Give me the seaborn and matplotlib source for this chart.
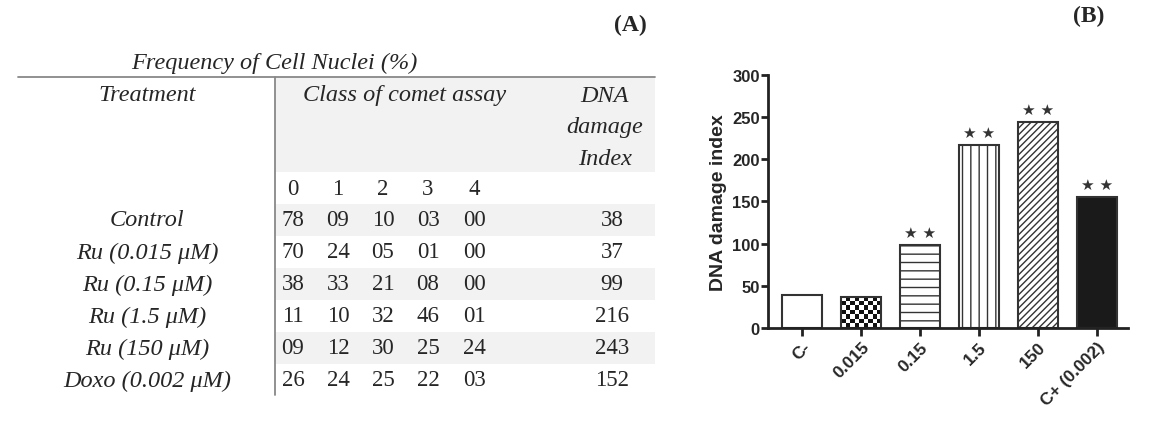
import numpy as np
import pandas as pd
import seaborn as sns
import matplotlib.pyplot as plt
from matplotlib.colors import ListedColormap

# table (A)
treatments = ["Control", "Ru (0.015 μM)", "Ru (0.15 μM)", "Ru (1.5 μM)", "Ru (150 μM)", "Doxo (0.002 μM)"]
class_names = ["0", "1", "2", "3", "4"]
class_0 = ["78", "70", "38", "11", "09", "26"]
class_1 = ["09", "24", "33", "10", "12", "24"]
class_2 = ["10", "05", "21", "32", "30", "25"]
class_3 = ["03", "01", "08", "46", "25", "22"]
class_4 = ["00", "00", "00", "01", "24", "03"]
damage_index = ["38", "37", "99", "216", "243", "152"]

# bars (B)
doses = ["C-", "0.015", "0.15", "1.5", "150", "C+ (0.002)"]
dna_index = [39, 37, 98, 217, 244, 155]
signif = ["", "", "★ ★", "★ ★", "★ ★", "★ ★"]

sns.set_style("ticks")
plt.rcParams["font.family"] = ["Liberation Sans", "DejaVu Sans"]

fig = plt.figure(figsize=(11.5, 4.39), dpi=100)

# ---- table drawn in pixel coords
tb = fig.add_axes([0, 0, 1, 1])
tb.set_xlim(0, 1150)
tb.set_ylim(439, 0)
tb.axis("off")
serif = ["Liberation Serif", "DejaVu Serif"]
fs_it = 17.5
fs_num = 16.5

row_h = 32
first_row = 205
col_x = [293, 338, 383, 428, 474]
idx_x = 612
gray = "#f2f2f2"

tb.add_patch(plt.Rectangle((275, 78), 380, 95, color=gray, lw=0))
for i in range(len(treatments)):
    if i % 2 == 0:
        tb.add_patch(plt.Rectangle((275, first_row + i * row_h), 380, row_h, color=gray, lw=0))
tb.plot([18, 655], [78, 78], color="#888888", lw=1.3)
tb.plot([275, 275], [78, 396], color="#888888", lw=1.3)

tb.text(274, 63, "Frequency of Cell Nuclei (%)", family=serif, style="italic", fontsize=fs_it, ha="center", va="center")
tb.text(147, 96, "Treatment", family=serif, style="italic", fontsize=fs_it, ha="center", va="center")
tb.text(405, 96, "Class of comet assay", family=serif, style="italic", fontsize=fs_it, ha="center", va="center")
tb.text(605, 128, "DNA\ndamage\nIndex", family=serif, style="italic", fontsize=fs_it, ha="center", va="center", linespacing=1.65)
for x, c in zip(col_x, class_names):
    tb.text(x, 190, c, family=serif, fontsize=fs_num, ha="center", va="center")

cols = [class_0, class_1, class_2, class_3, class_4]
for i, t in enumerate(treatments):
    y = first_row + i * row_h + row_h / 2
    tb.text(147, y, t, family=serif, style="italic", fontsize=fs_it, ha="center", va="center")
    for x, col in zip(col_x, cols):
        tb.text(x, y, col[i], family=serif, fontsize=fs_num, ha="center", va="center")
    tb.text(idx_x, y, damage_index[i], family=serif, fontsize=fs_num, ha="center", va="center")

tb.text(630, 25, "(A)", family=serif, fontweight="bold", fontsize=17, ha="center", va="center")
tb.text(1089, 16, "(B)", family=serif, fontweight="bold", fontsize=17, ha="center", va="center")

# ---- bar chart
ax = fig.add_axes([0.668, 0.2506, 0.313, 0.5763])
df = pd.DataFrame({"dose": doses, "value": dna_index})
sns.barplot(data=df, x="dose", y="value", ax=ax, width=0.68, color="white",
            edgecolor="#333333", linewidth=1.5, errorbar=None, saturation=1)

plt.rcParams["hatch.linewidth"] = 1.0
hatches = ["", "", "--", "||", "/////", ""]
faces = ["white", "none", "white", "white", "white", "#1a1a1a"]
for p, h, f in zip(ax.patches, hatches, faces):
    p.set_hatch(h)
    p.set_facecolor(f)
    p.set_zorder(2)

# checkerboard for 0.015
p = ax.patches[1]
x0, y0, w, h = p.get_x(), p.get_y(), p.get_width(), p.get_height()
board = np.indices((7, 9)).sum(axis=0) % 2
im = ax.imshow(board, cmap=ListedColormap(["white", "#111111"]), extent=(x0, x0 + w, y0, y0 + h),
               aspect="auto", interpolation="nearest", zorder=1)
im.set_clip_path(p)

for i, (v, s) in enumerate(zip(dna_index, signif)):
    if s:
        ax.text(i, v + 15, s, ha="center", va="center", fontsize=11, color="#333333",
                family="DejaVu Sans")

ax.set_xlim(-0.58, 5.53)
ax.set_ylim(0, 300)
ax.set_yticks([0, 50, 100, 150, 200, 250, 300])
ax.set_xlabel("")
ax.set_ylabel("DNA damage index", fontsize=14, fontweight="bold", labelpad=4)
sns.despine(ax=ax)
for sp in ["left", "bottom"]:
    ax.spines[sp].set_linewidth(2)
    ax.spines[sp].set_color("#222222")
ax.tick_params(axis="y", width=2, length=5, color="#222222", labelsize=12, pad=1)
ax.tick_params(axis="x", width=2, length=6, color="#222222", labelsize=12.5, pad=2)
for lab in ax.get_yticklabels():
    lab.set_fontweight("bold")
for lab in ax.get_xticklabels():
    lab.set_fontweight("bold")
    lab.set_rotation(45)
    lab.set_ha("right")
    lab.set_rotation_mode("anchor")

fig.savefig("out.png", dpi=100)
